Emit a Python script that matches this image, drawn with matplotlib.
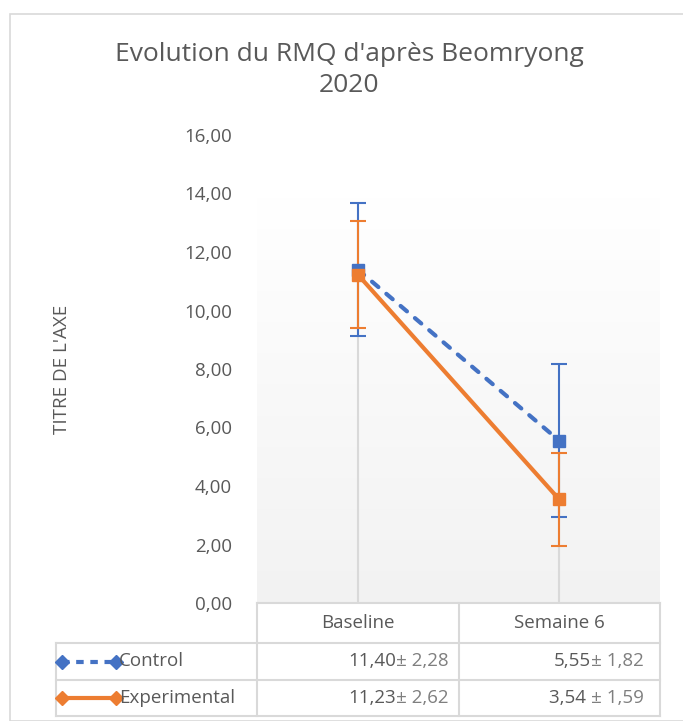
import numpy as np
import matplotlib
matplotlib.use("Agg")
import matplotlib.pyplot as plt
from matplotlib.lines import Line2D
import matplotlib.transforms as mtransforms

# ---- data ----
categories = ["Baseline", "Semaine 6"]
series_names = ["Control", "Experimental"]
control_means = [11.40, 5.55]
control_err = [2.28, 2.62]          # bars as drawn on the chart
experimental_means = [11.23, 3.54]
experimental_err = [1.82, 1.59]     # bars as drawn on the chart
control_table = [("11,40", "± 2,28"), ("5,55", "± 1,82")]
experimental_table = [("11,23", "± 2,62"), ("3,54 ", "± 1,59")]
yticks = [0, 2, 4, 6, 8, 10, 12, 14, 16]
ytick_labels = ["0,00", "2,00", "4,00", "6,00", "8,00", "10,00", "12,00", "14,00", "16,00"]
title = "Evolution du RMQ d'après Beomryong\n2020"
ylabel = "TITRE DE L'AXE"

BLUE = "#4472C4"
ORANGE = "#ED7D31"
TXT = "#595959"
GRID = "#D9D9D9"
FS = 13.5
DASH = (0, (2.0, 2.5))
LW = 3.0

plt.rcParams['font.family'] = ['Open Sans', 'DejaVu Sans']

W, H = 683, 721
fig = plt.figure(figsize=(W / 100, H / 100), dpi=100)

def fx(px):
    return px / W

def fy(py):
    return 1 - py / H

# chart border
fig.add_artist(plt.Rectangle((fx(10), fy(721)), fx(700), fy(14) - fy(721),
                             transform=fig.transFigure, fill=False,
                             edgecolor="#D9D9D9", lw=1.2))

L, R, T, B = 257, 660, 135, 603
ax = fig.add_axes([fx(L), fy(B), fx(R - L), fy(T) - fy(B)])
x = np.arange(len(categories))

# gradient plot-area fill
grad_top = 13.85
grad = np.linspace(0, 1, 256).reshape(-1, 1)
cmap = matplotlib.colors.LinearSegmentedColormap.from_list("g", ["#F2F2F2", "#FFFFFF"])
ax.imshow(grad, extent=(-0.5, 1.5, 0, grad_top), origin="lower", cmap=cmap,
          aspect="auto", zorder=0, interpolation="bilinear")
ax.set_ylim(0, 16)
ax.set_xlim(-0.5, 1.5)

# drop lines at categories
for i, xi in enumerate(x):
    top = max(control_means[i], experimental_means[i])
    ax.plot([xi, xi], [0, top], color=GRID, lw=1.5, zorder=1)

# series
ax.errorbar(x, control_means, yerr=control_err, fmt="none", ecolor=BLUE,
            elinewidth=1.5, capsize=6, capthick=1.5, zorder=3)
ax.errorbar(x, experimental_means, yerr=experimental_err, fmt="none", ecolor=ORANGE,
            elinewidth=1.5, capsize=6, capthick=1.5, zorder=3)
ax.plot(x, control_means, color=BLUE, lw=LW, ls=DASH,
        dash_capstyle="round", marker="s", ms=8, zorder=4)
ax.plot(x, experimental_means, color=ORANGE, lw=LW, marker="s", ms=8, zorder=5)

ax.set_yticks(yticks)
ax.set_yticklabels(ytick_labels, color=TXT, fontsize=FS)
ax.set_xticks([])
ax.tick_params(axis="y", length=0, pad=18)
for s in ax.spines.values():
    s.set_visible(False)

fig.text(fx(62), fy(369), ylabel, rotation=90, ha="center", va="center",
         color=TXT, fontsize=13.5)

fig.text(fx(349), fy(70), title, ha="center", va="center", color=TXT,
         fontsize=19, linespacing=1.35)

# ---- data table ----
tr = mtransforms.blended_transform_factory(ax.transData, fig.transFigure)
col_edges = [-0.5, 0.5, 1.5]
row_y = [603, 643, 680, 716]
lx = -1.5
lkw = dict(color=GRID, lw=1.5, transform=tr, clip_on=False)
ax.add_line(Line2D([-0.5, 1.5], [fy(row_y[0])] * 2, **lkw))
for r in row_y[1:]:
    ax.add_line(Line2D([lx, 1.5], [fy(r)] * 2, **lkw))
for c in col_edges:
    ax.add_line(Line2D([c, c], [fy(row_y[0]), fy(row_y[3])], **lkw))
ax.add_line(Line2D([lx, lx], [fy(row_y[1]), fy(row_y[3])], **lkw))

for i, cat in enumerate(categories):
    ax.text(x[i], fy((row_y[0] + row_y[1]) / 2), cat, transform=tr, ha="center",
            va="center", color=TXT, fontsize=FS)

rows = [(control_table, BLUE, (0, (1.8, 1.6)), series_names[0]),
        (experimental_table, ORANGE, "-", series_names[1])]
for ri, (vals, col, ls, name) in enumerate(rows):
    yc = fy((row_y[ri + 1] + row_y[ri + 2]) / 2)
    k0 = lx + 0.03
    k1 = lx + 0.30
    ax.add_line(Line2D([k0, k1], [yc, yc], color=col, lw=LW, ls=ls, transform=tr,
                       dash_capstyle="butt", clip_on=False))
    ax.add_line(Line2D([k0, k1], [yc, yc], color=col, lw=0, marker="D", ms=7,
                       transform=tr, clip_on=False))
    ax.text(k1 + 0.015, yc, name, transform=tr, ha="left", va="center",
            color=TXT, fontsize=FS)
    for ci, (num, pm) in enumerate(vals):
        right = col_edges[ci + 1] - (0.05 if ci == 0 else 0.08)
        t2 = ax.text(right, yc, pm, transform=tr, ha="right", va="center",
                     color="#7F7F7F", fontsize=FS)
        fig.canvas.draw()
        bb = t2.get_window_extent()
        xr = ax.transData.inverted().transform((bb.x0, 0))[0]
        ax.text(xr, yc, num, transform=tr, ha="right", va="center",
                color=TXT, fontsize=FS)

fig.savefig("out.png", dpi=100)
